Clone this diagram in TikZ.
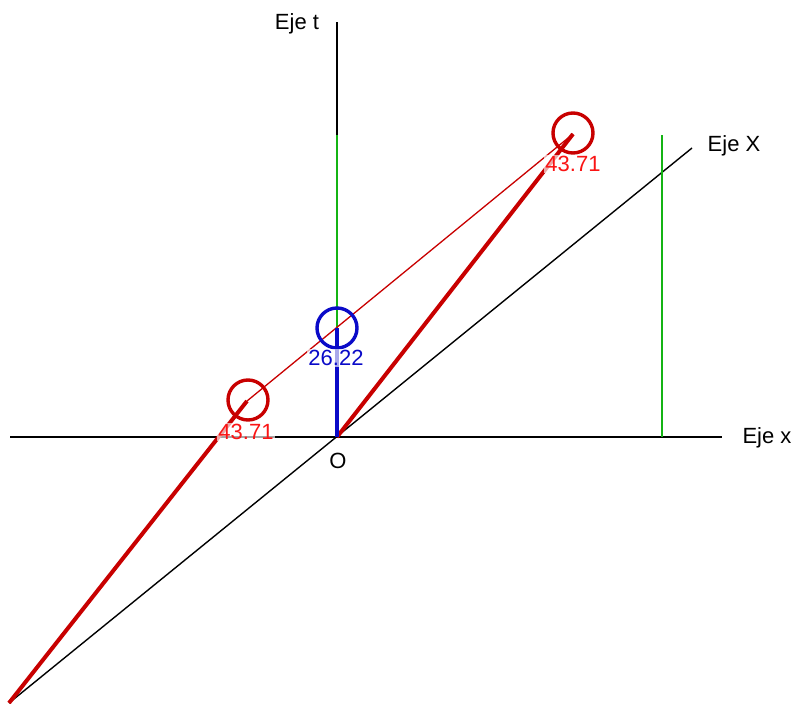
\documentclass[tikz,border=0pt]{standalone}
\usepackage{fontspec}
\setmainfont{Liberation Sans}
\definecolor{dred}{RGB}{200,0,0}
\definecolor{lred}{RGB}{250,20,20}
\definecolor{dblue}{RGB}{10,10,200}
\definecolor{dgreen}{RGB}{20,180,20}
\tikzset{
  axis/.style={black, line width=2pt},
  thinaxis/.style={black, line width=1.4pt},
  greenline/.style={dgreen, line width=2pt},
  redthick/.style={dred, line width=4pt},
  redthin/.style={dred, line width=1.3pt},
  bluethick/.style={dblue, line width=4pt},
  ring/.style={circle, draw, line width=3.4pt, minimum size=40pt, inner sep=0pt},
  lbl/.style={font=\fontsize{22}{22}\selectfont, inner sep=1pt},
  val/.style={lbl, fill=white, fill opacity=0.65, text opacity=1},
}
\begin{document}
\begin{tikzpicture}[x=1pt,y=-1pt]
\useasboundingbox (0,0) rectangle (798,704);
% points
\coordinate (O) at (337,437);
\coordinate (tTop) at (337,22);
\coordinate (xL) at (10,437);
\coordinate (xR) at (722,437);
\coordinate (XL) at (9,703);
\coordinate (XR) at (692,148);
\coordinate (gTop) at (337,135);
\coordinate (B) at (337,328);
\coordinate (g2Top) at (662,135);
\coordinate (g2Bot) at (662,437);
\coordinate (L) at (247,401);
\coordinate (U) at (573,134);
% axes
\draw[axis] (xL) -- (xR);
\draw[axis] (tTop) -- (O);
\draw[thinaxis] (XL) -- (XR);
% green lines
\draw[greenline] (gTop) -- (B);
\draw[greenline] (g2Top) -- (g2Bot);
% red world lines
\draw[redthick] (XL) -- (L);
\draw[redthick] (O) -- (U);
\draw[redthin] (L) -- (U);
% blue
\draw[bluethick] (B) -- (O);
% rings
\node[ring, draw=dred] (cL) at (248,400) {};
\node[ring, draw=dblue] (cB) at (337,328) {};
\node[ring, draw=dred] (cU) at (573,133) {};
% value labels
\node[val, text=lred] (vL) at (246,432) {43.71};
\node[val, text=dblue] (vB) at (336,358) {26.22};
\node[val, text=lred] (vU) at (573,164) {43.71};
% axis labels
\node[lbl] (lO) at (338,461) {O};
\node[lbl] (lt) at (297,24) {Eje t};
\node[lbl] (lX) at (734,146) {Eje X};
\node[lbl] (lx) at (767,438) {Eje x};
\end{tikzpicture}
\end{document}
